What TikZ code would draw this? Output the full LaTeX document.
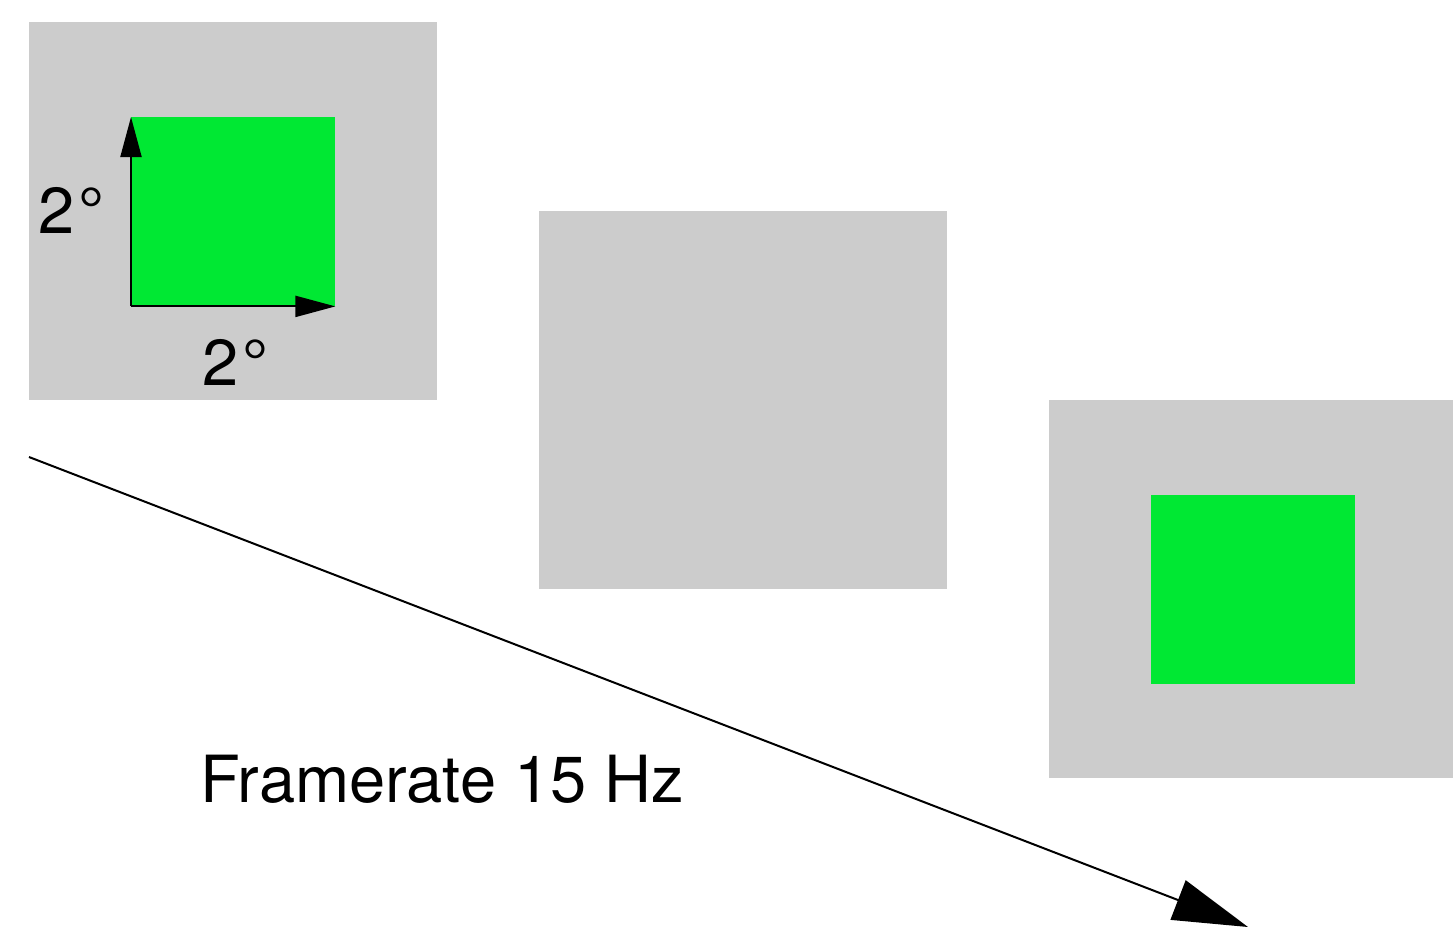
\documentclass[tikz,border=0pt]{standalone}
\usepackage{fontspec}
\setmainfont{TeX Gyre Heros}
\usetikzlibrary{arrows.meta}
\definecolor{bggray}{HTML}{CCCCCC}
\definecolor{stimgreen}{RGB}{0,232,51}
\tikzset{
  frame/.style={fill=bggray, draw=none, inner sep=0pt, minimum width=408pt, minimum height=378pt, anchor=north west},
  stim/.style={fill=stimgreen, draw=none, inner sep=0pt, minimum width=204pt, minimum height=189pt, anchor=north west},
  lbl/.style={font=\fontsize{65}{78}\selectfont, inner sep=0pt},
  dimarrow/.style={line width=2pt, -{Triangle[length=40pt,width=21pt]}},
  timearrow/.style={line width=2pt, -{Triangle[length=75pt,width=42pt]}}
}
\begin{document}
\begin{tikzpicture}[x=1pt,y=-1pt]
\useasboundingbox (0,0) rectangle (1453,926);
\clip (0,0) rectangle (1453,926);
\node[frame] (f1) at (29,22) {};
\node[stim] (g1) at (131,117) {};
\node[frame] (f2) at (539,211) {};
\node[frame, minimum width=404pt] (f3) at (1049,400) {};
\node[stim] (g3) at (1151,495) {};
\coordinate (o) at (g1.south west);
\draw[dimarrow] (o) -- (g1.north west);
\draw[dimarrow] (o) -- (g1.south east);
\node[lbl, anchor=base west] (lv) at (38,233) {2\kern4pt°};
\node[lbl, anchor=base west] (lh) at (202,385) {2\kern4pt°};
\coordinate (ts) at (29,457);
\coordinate (te) at (1248,927);
\draw[timearrow] (ts) -- (te);
\node[lbl, anchor=base west] (fr) at (200,802) {Framerate 15 Hz};
\end{tikzpicture}
\end{document}
